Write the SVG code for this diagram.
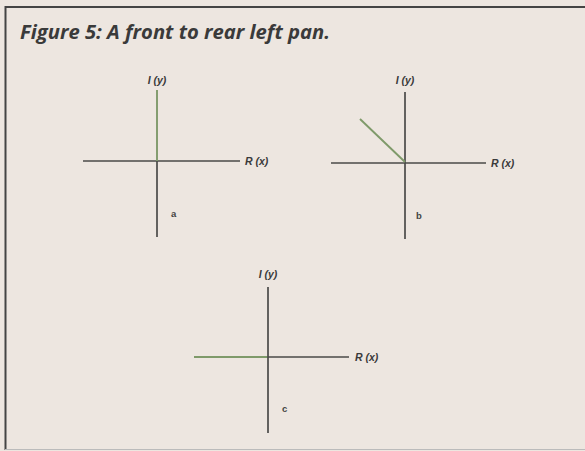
<svg xmlns="http://www.w3.org/2000/svg" width="585" height="451" viewBox="0 0 585 451">
<style>
.ax{stroke:#4a4a48;stroke-width:1.7;fill:none}
.gr{stroke:#7f9a6a;stroke-width:1.9;fill:none}
.lb{font-family:"Liberation Sans",Arial,sans-serif;font-style:italic;font-weight:bold;font-size:10.5px;fill:#3a3a3a}
.sm{font-family:"Liberation Sans",Arial,sans-serif;font-weight:bold;font-size:9.5px;fill:#444}
</style>
<rect x="0" y="0" width="585" height="451" fill="#ede6e0"/>
<g id="frame">
<path d="M5.5 450 V7 H585" stroke="#444" stroke-width="2" fill="none"/>
<path d="M5 449.5 H585" stroke="#bbb" stroke-width="1" fill="none"/>
</g>
<text x="20" y="39" textLength="310" lengthAdjust="spacingAndGlyphs" font-family="'Open Sans','DejaVu Sans',sans-serif" font-weight="bold" font-style="italic" font-size="19" fill="#3a3a3a">Figure 5: A front to rear left pan.</text>
<g id="connectors">
<line class="ax" x1="83" y1="161" x2="240" y2="161"/>
<line class="ax" x1="157" y1="161" x2="157" y2="237"/>
<line class="gr" x1="157" y1="90" x2="157" y2="161"/>
<line class="ax" x1="331" y1="163" x2="486" y2="163"/>
<line class="ax" x1="405" y1="92" x2="405" y2="239"/>
<line class="gr" x1="405" y1="162" x2="360" y2="119" stroke-width="3"/>
<line class="ax" x1="194" y1="357" x2="349" y2="357"/>
<line class="gr" x1="194" y1="357" x2="268" y2="357"/>
<line class="ax" x1="268" y1="287" x2="268" y2="433"/>
</g>
<g id="a">
<text class="lb" x="157" y="84" text-anchor="middle">I (y)</text>
<text class="lb" x="245" y="165">R (x)</text>
<text class="sm" x="171" y="217">a</text>
</g>
<g id="b">
<text class="lb" x="405" y="84" text-anchor="middle">I (y)</text>
<text class="lb" x="491" y="167">R (x)</text>
<text class="sm" x="416" y="219">b</text>
</g>
<g id="c">
<text class="lb" x="268" y="278" text-anchor="middle">I (y)</text>
<text class="lb" x="355" y="361">R (x)</text>
<text class="sm" x="282" y="412">c</text>
</g>
</svg>
